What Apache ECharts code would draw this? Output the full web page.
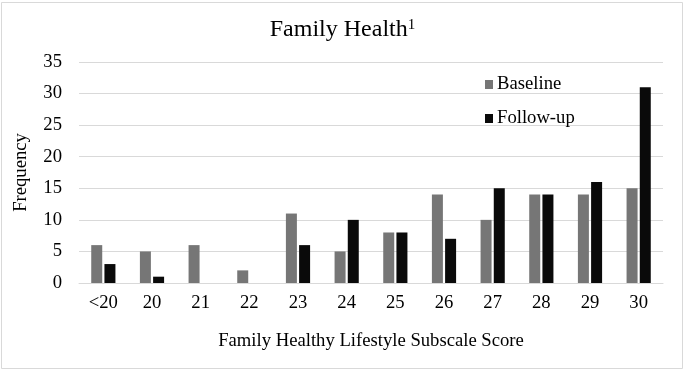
<!DOCTYPE html>
<html>
<head>
<meta charset="utf-8">
<script src="https://cdn.jsdelivr.net/npm/echarts@6/dist/echarts.min.js"></script>
<style>
  html, body { margin: 0; padding: 0; background: #fff; }
  #chart { width: 685px; height: 372px; }
</style>
</head>
<body>
<div id="chart"></div>
<script>
const categories = ['<20', '20', '21', '22', '23', '24', '25', '26', '27', '28', '29', '30']
const baseline = [6, 5, 6, 2, 11, 5, 8, 14, 10, 14, 14, 15]
const followUp = [3, 1, 0, 0, 6, 10, 8, 7, 15, 14, 16, 31]

const serif = '"Liberation Serif", "Times New Roman", serif'
const chart = echarts.init(document.getElementById('chart'))

chart.setOption({
  backgroundColor: '#fff',
  animation: false,
  graphic: [{
    type: 'rect',
    shape: { x: 1.5, y: 2.5, width: 681, height: 366 },
    style: { fill: 'none', stroke: '#d9d9d9', lineWidth: 1 }
  }],
  title: {
    text: '{t|Family Health}{s|1}',
    left: 'center',
    top: 13,
    textStyle: {
      fontWeight: 'normal',
      rich: {
        t: { fontFamily: serif, fontSize: 24, fontWeight: 'normal', color: '#000' },
        s: { fontFamily: serif, fontSize: 15, fontWeight: 'normal', color: '#000', verticalAlign: 'top' }
      }
    }
  },
  legend: {
    orient: 'vertical',
    left: 480,
    top: 70,
    itemGap: 15,
    itemWidth: 8,
    itemHeight: 9,
    icon: 'rect',
    textStyle: { fontFamily: serif, fontSize: 18.67, color: '#000', padding: [0, 0, 0, -1] },
    data: ['Baseline', 'Follow-up']
  },
  grid: { left: 79, right: 22, top: 62, bottom: 89 },
  xAxis: {
    type: 'category',
    data: categories,
    name: 'Family Healthy Lifestyle Subscale Score',
    nameLocation: 'middle',
    nameGap: 49,
    nameTextStyle: { fontFamily: serif, fontSize: 18.67, color: '#000' },
    axisLine: { lineStyle: { color: '#d9d9d9', width: 1 } },
    axisTick: { show: false },
    axisLabel: { fontFamily: serif, fontSize: 18.67, color: '#000', margin: 11 }
  },
  yAxis: {
    type: 'value',
    min: 0,
    max: 35,
    interval: 5,
    name: 'Frequency',
    nameLocation: 'middle',
    nameGap: 48,
    nameTextStyle: { fontFamily: serif, fontSize: 18.67, color: '#000' },
    axisLine: { show: false },
    axisTick: { show: false },
    axisLabel: { fontFamily: serif, fontSize: 18.67, color: '#000', margin: 17 },
    splitLine: { lineStyle: { color: '#d9d9d9', width: 1 } }
  },
  series: [
    {
      name: 'Baseline',
      type: 'bar',
      data: baseline,
      barWidth: 11,
      barGap: '20%',
      itemStyle: { color: '#767676' }
    },
    {
      name: 'Follow-up',
      type: 'bar',
      data: followUp,
      barWidth: 11,
      itemStyle: { color: '#0a0a0a' }
    }
  ]
})
</script>
</body>
</html>
